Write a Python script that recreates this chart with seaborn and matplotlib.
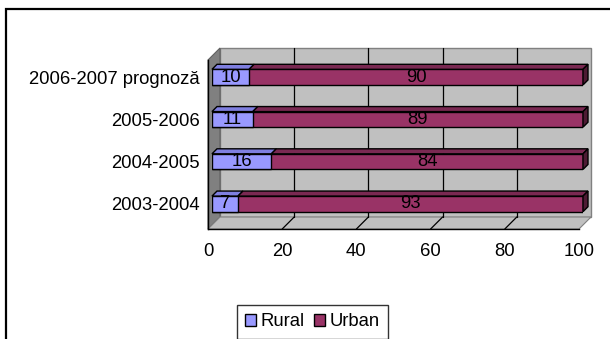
import matplotlib
matplotlib.use("Agg")
import matplotlib.pyplot as plt
from matplotlib.patches import Polygon, Rectangle, Patch
from matplotlib.transforms import ScaledTranslation, IdentityTransform
import seaborn as sns
import pandas as pd

# Data
categories = ["2006-2007 prognoză", "2005-2006", "2004-2005", "2003-2004"]
rural = [10, 11, 16, 7]
urban = [90, 89, 84, 93]
x_ticks = [0, 20, 40, 60, 80, 100]

RURAL_C = "#9999FF"
URBAN_C = "#993366"
RURAL_TOP = "#7F7FE0"
URBAN_TOP = "#7A2952"
URBAN_SIDE = "#4D1A33"
WALL = "#C0C0C0"
SIDE_WALL = "#808080"

sns.set_style("white")
plt.rcParams["font.family"] = ["Liberation Sans", "DejaVu Sans"]
plt.rcParams.update({"text.color": "black", "xtick.color": "black",
                     "ytick.color": "black", "axes.labelcolor": "black"})
FS = 13.3

W, H, DPI = 610, 339, 100
fig = plt.figure(figsize=(W / DPI, H / DPI), dpi=DPI)

# front plane of the 3-D box (pixel geometry)
fx0, fx1, fy_top, fy_bot = 208, 579, 60, 229
WALL_DEPTH = 12   # px, depth of the box
BAR_SHIFT = 4     # px, bars sit slightly behind the front plane
BAR_DEPTH = 5     # px, depth of each bar


def axes_rect(x0, x1, ytop, ybot):
    return [x0 / W, 1 - ybot / H, (x1 - x0) / W, (ybot - ytop) / H]


ax_f = fig.add_axes(axes_rect(fx0, fx1, fy_top, fy_bot))
ax_b = fig.add_axes(axes_rect(fx0 + BAR_SHIFT, fx1 + BAR_SHIFT,
                              fy_top - BAR_SHIFT, fy_bot - BAR_SHIFT))
ax_b.set_zorder(ax_f.get_zorder() + 1)

n = len(categories)
ylim = (n - 0.5, -0.5)
for a in (ax_f, ax_b):
    a.set_xlim(0, 100)
    a.set_ylim(*ylim)
    a.set_facecolor("none")

# ---- walls and floor (front axes) ----
back = ax_f.transData + ScaledTranslation(WALL_DEPTH / DPI, WALL_DEPTH / DPI,
                                          fig.dpi_scale_trans)


def disp(ax, x, y, dx=0.0, dy=0.0):
    X, Y = ax.transData.transform((x, y))
    return (X + dx, Y + dy)


ax_f.add_patch(Rectangle((0, -0.5), 100, n, transform=back, facecolor=WALL,
                         edgecolor="#808080", lw=1, clip_on=False, zorder=0.5))
side = [disp(ax_f, 0, -0.5), disp(ax_f, 0, n - 0.5),
        disp(ax_f, 0, n - 0.5, WALL_DEPTH, WALL_DEPTH),
        disp(ax_f, 0, -0.5, WALL_DEPTH, WALL_DEPTH)]
ax_f.add_patch(Polygon(side, closed=True, transform=IdentityTransform(),
                       facecolor=SIDE_WALL, edgecolor="#606060", lw=0.8,
                       clip_on=False, zorder=0.6))
floor = [disp(ax_f, 0, n - 0.5), disp(ax_f, 100, n - 0.5),
         disp(ax_f, 100, n - 0.5, WALL_DEPTH, WALL_DEPTH),
         disp(ax_f, 0, n - 0.5, WALL_DEPTH, WALL_DEPTH)]
ax_f.add_patch(Polygon(floor, closed=True, transform=IdentityTransform(),
                       facecolor=WALL, edgecolor="#808080", lw=0.8,
                       clip_on=False, zorder=0.6))

# gridlines on the back wall and across the floor
for xv in x_ticks[1:-1]:
    ax_f.plot([xv, xv], [-0.5, n - 0.5], transform=back, color="black",
              lw=0.9, clip_on=False, zorder=0.7)
    p0 = disp(ax_f, xv, n - 0.5)
    p1 = disp(ax_f, xv, n - 0.5, WALL_DEPTH, WALL_DEPTH)
    ax_f.plot([p0[0], p1[0]], [p0[1], p1[1]], transform=IdentityTransform(),
              color="black", lw=0.9, clip_on=False, zorder=0.7)

for s in ("top", "right"):
    ax_f.spines[s].set_visible(False)
for s in ("left", "bottom"):
    ax_f.spines[s].set_color("black")
    ax_f.spines[s].set_linewidth(1)
ax_f.set_xticks(x_ticks)
ax_f.set_xticklabels([str(t) for t in x_ticks], fontsize=FS)
ax_f.set_yticks([i - 0.5 for i in range(n + 1)])
ax_f.set_yticklabels([])
ax_f.tick_params(axis="x", direction="out", length=5, width=1, color="black",
                 labelcolor="black", pad=5)
ax_f.tick_params(axis="y", direction="out", length=4, width=1, color="black")

# ---- bars (stacked: full total in Urban colour, Rural over it) ----
df = pd.DataFrame({"cat": categories, "rural": rural, "urban": urban})
df["total"] = df["rural"] + df["urban"]
BAR_H = 0.37
sns.barplot(data=df, x="total", y="cat", order=categories, orient="h",
            color=URBAN_C, saturation=1, edgecolor="black", linewidth=1,
            width=BAR_H, errorbar=None, ax=ax_b)
sns.barplot(data=df, x="rural", y="cat", order=categories, orient="h",
            color=RURAL_C, saturation=1, edgecolor="black", linewidth=1,
            width=BAR_H, errorbar=None, ax=ax_b)
ax_b.set_xlim(0, 100)
ax_b.set_ylim(*ylim)
ax_b.set_xlabel("")
ax_b.set_ylabel("")
ax_b.set_xticks([])
for s in ax_b.spines.values():
    s.set_visible(False)
ax_b.tick_params(axis="y", length=0, pad=8.6, labelsize=FS, labelcolor="black")

# top and side faces of the bars
for i, (r, u) in enumerate(zip(rural, urban)):
    top = i - BAR_H / 2
    bot = i + BAR_H / 2
    d = BAR_DEPTH
    for xa, xb, col in ((0, r, RURAL_TOP), (r, r + u, URBAN_TOP)):
        pts = [disp(ax_b, xa, top), disp(ax_b, xb, top),
               disp(ax_b, xb, top, d, d), disp(ax_b, xa, top, d, d)]
        ax_b.add_patch(Polygon(pts, closed=True, transform=IdentityTransform(),
                               facecolor=col, edgecolor="black", lw=1,
                               clip_on=False, zorder=3))
    xe = r + u
    pts = [disp(ax_b, xe, top), disp(ax_b, xe, top, d, d),
           disp(ax_b, xe, bot, d, d), disp(ax_b, xe, bot)]
    ax_b.add_patch(Polygon(pts, closed=True, transform=IdentityTransform(),
                           facecolor=URBAN_SIDE, edgecolor="black", lw=1,
                           clip_on=False, zorder=3))
    ax_b.text(r / 2, i, str(r), ha="center", va="center", fontsize=FS,
              color="black", zorder=4)
    ax_b.text(r + u / 2, i, str(u), ha="center", va="center", fontsize=FS,
              color="black", zorder=4)

# legend
handles = [Patch(facecolor=RURAL_C, edgecolor="black", lw=1),
           Patch(facecolor=URBAN_C, edgecolor="black", lw=1)]
leg = fig.legend(handles, ["Rural", "Urban"], ncol=2, loc="upper left",
                 bbox_to_anchor=(237 / W, 1 - 305 / H), fontsize=FS,
                 frameon=True, fancybox=False, edgecolor="black",
                 handlelength=0.6, handleheight=0.6, handletextpad=0.2,
                 columnspacing=0.55, borderpad=0.45, borderaxespad=0,
                 labelcolor="black")
leg.get_frame().set_linewidth(1)

# chart border
fig.add_artist(Rectangle((6 / W, -0.1), 1.2, 1.1 - 9 / H, transform=fig.transFigure,
                         fill=False, edgecolor="black", lw=1.6))

fig.savefig("out.png", dpi=DPI)
